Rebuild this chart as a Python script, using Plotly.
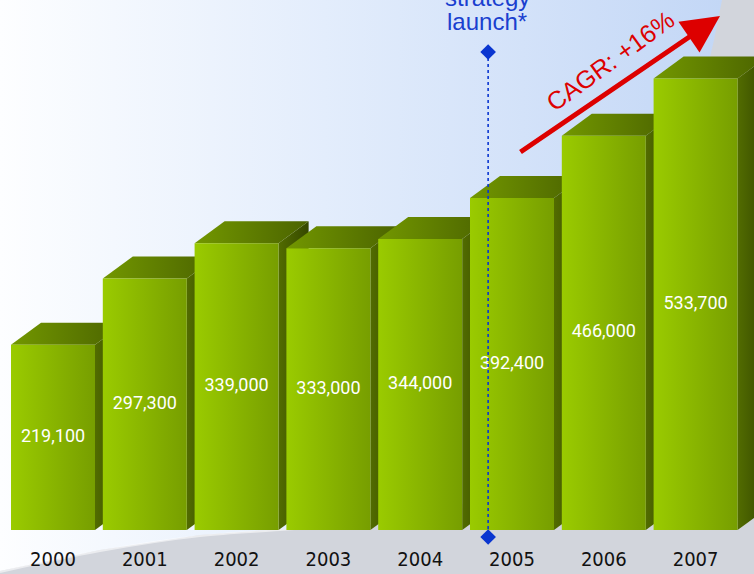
import plotly.graph_objects as go

# ---- data -------------------------------------------------------------
years = ["2000", "2001", "2002", "2003", "2004", "2005", "2006", "2007"]
values = [219100, 297300, 339000, 333000, 344000, 392400, 466000, 533700]
launch_lines = ["strategy", "launch*"]
cagr_label = "CAGR: +16%"

# ---- canvas / scale set-up ------------------------------------------------
W, H = 754, 574
PX_PER_CAT = 91.8          # horizontal pitch between bars
PX_PER_VAL = 0.000846      # vertical pixels per unit of value
X0_PX = 53                 # centre of first bar
BASE_PX = 530              # baseline (value 0)

x_range = [-X0_PX / PX_PER_CAT, (W - X0_PX) / PX_PER_CAT]
y_range = [-(H - BASE_PX) / PX_PER_VAL, BASE_PX / PX_PER_VAL]

HALF_W = 42 / PX_PER_CAT   # half width of a bar front face
DX = 30 / PX_PER_CAT       # 3D depth offset (horizontal)
DY = 22 / PX_PER_VAL       # 3D depth offset (vertical)

FRONT = [[0, "#9acb00"], [1, "#779e00"]]
TOP = [[0, "#729700"], [1, "#4b6300"]]
SIDE = [[0, "#526c00"], [1, "#354700"]]

fig = go.Figure()

# ---- background: light swoosh on grey (pixel axes) -------------------------
bg_x = [0, 722, 714, 700, 680, 640, 580, 480, 380, 280, 200, 100, 0, 0]
bg_y = [0, 0, 40, 100, 200, 330, 430, 500, 522, 529, 535, 550, 571, 0]
fig.add_trace(go.Scatter(
    x=bg_x, y=bg_y, mode="lines", fill="toself",
    line=dict(width=0, color="rgba(0,0,0,0)"),
    fillgradient=dict(type="horizontal",
                      colorscale=[[0, "#fdfeff"], [0.45, "#e3edfc"], [1, "#c3d7f6"]]),
    hoverinfo="skip", showlegend=False, xaxis="x", yaxis="y"))
# soft highlight along the swoosh edge
fig.add_trace(go.Scatter(
    x=[380, 280, 200, 100, 0], y=[523, 530, 536, 551, 572], mode="lines",
    line=dict(width=2, color="rgba(255,255,255,0.55)", shape="spline"),
    hoverinfo="skip", showlegend=False, xaxis="x", yaxis="y"))


def face(xs, ys, scale):
    fig.add_trace(go.Scatter(
        x=xs, y=ys, mode="lines", fill="toself",
        line=dict(width=0, color="rgba(0,0,0,0)"),
        fillgradient=dict(type="horizontal", colorscale=scale),
        hoverinfo="skip", showlegend=False, xaxis="x2", yaxis="y2"))


# ---- 3D bars ------------------------------------------------------------------
for i, v in enumerate(values):
    xl, xr = i - HALF_W, i + HALF_W
    # right side face
    face([xr, xr + DX, xr + DX, xr, xr], [v, v + DY, DY, 0, v], SIDE)
    # top face
    face([xl, xl + DX, xr + DX, xr, xl], [v, v + DY, v + DY, v, v], TOP)
    # front face
    face([xl, xr, xr, xl, xl], [0, 0, v, v, 0], FRONT)

# value labels in the middle of each bar
fig.add_trace(go.Scatter(
    x=list(range(len(values))), y=[v / 2 for v in values],
    mode="text", text=[f"{v:,}" for v in values],
    textfont=dict(family="Roboto, Arial, sans-serif", size=18, color="white"),
    hoverinfo="skip", showlegend=False, xaxis="x2", yaxis="y2"))

# year labels under the bars
fig.add_trace(go.Scatter(
    x=list(range(len(years))), y=[-(561 - BASE_PX) / PX_PER_VAL] * len(years),
    mode="text", text=years,
    textfont=dict(family="DejaVu Sans Condensed, Liberation Sans Narrow, sans-serif",
                  size=20, color="#111111"),
    hoverinfo="skip", showlegend=False, xaxis="x2", yaxis="y2"))

# strategy launch marker line
launch_x = 4.74
fig.add_trace(go.Scatter(
    x=[launch_x, launch_x],
    y=[(BASE_PX - 52) / PX_PER_VAL, (BASE_PX - 537) / PX_PER_VAL],
    mode="lines+markers",
    line=dict(color="#0a36d0", width=1.6, dash="dot"),
    marker=dict(symbol="diamond", size=12, color="#0a36d0"),
    hoverinfo="skip", showlegend=False, xaxis="x2", yaxis="y2"))

launch_font = dict(family="Liberation Sans, Arial, sans-serif", size=24, color="#1a3fcf")
annotations = [
    # upper line sits partly above the top edge of the canvas
    dict(x=487, y=1, yshift=4, xref="x", yref="y", text=launch_lines[0], showarrow=False,
         xanchor="center", yanchor="middle", font=launch_font),
    dict(x=487, y=21, xref="x", yref="y", text=launch_lines[1], showarrow=False,
         xanchor="center", yanchor="middle", font=launch_font),
    dict(x=720, y=16, xref="x", yref="y", ax=519, ay=153, axref="x", ayref="y",
         text="", showarrow=True, arrowhead=2, arrowsize=1.5, arrowwidth=5,
         arrowcolor="#dd0000"),
    dict(x=610, y=61, xref="x", yref="y", text=cagr_label, showarrow=False,
         textangle=-36,
         font=dict(family="Liberation Sans, Arial, sans-serif", size=25, color="#dd0000")),
]

fig.update_layout(
    width=W, height=H,
    margin=dict(l=0, r=0, t=0, b=0),
    paper_bgcolor="#d2d5dc", plot_bgcolor="#d2d5dc",
    showlegend=False,
    xaxis=dict(range=[0, W], visible=False, fixedrange=True),
    yaxis=dict(range=[H, 0], visible=False, fixedrange=True),
    xaxis2=dict(range=x_range, visible=False, overlaying="x", anchor="y2", fixedrange=True),
    yaxis2=dict(range=y_range, visible=False, overlaying="y", anchor="x2", fixedrange=True),
    annotations=annotations,
)

fig.write_html("out.html")
